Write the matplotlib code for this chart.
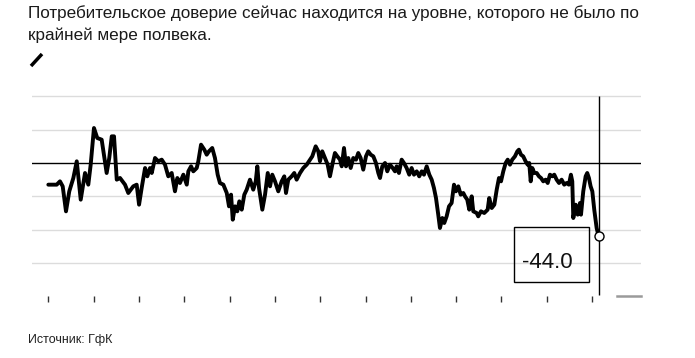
import matplotlib.pyplot as plt
from matplotlib.lines import Line2D
from matplotlib.patches import Rectangle

# GfK consumer confidence (UK)
years = [
    1974.00, 1974.74, 1975.03, 1975.27, 1975.56, 1975.85, 1976.21, 1976.51, 1976.86, 1977.24,
    1977.53, 1977.74, 1978.03, 1978.32, 1978.71, 1979.15, 1979.38, 1979.60, 1979.80, 1980.04,
    1980.33, 1980.77, 1981.06, 1981.50, 1981.80, 1982.01, 1982.24, 1982.54, 1982.74, 1982.98,
    1983.13, 1983.42, 1983.71, 1984.01, 1984.30, 1984.59, 1984.89, 1985.18, 1985.39, 1985.62,
    1985.92, 1986.22, 1986.36, 1986.60, 1986.80, 1987.10, 1987.24, 1987.48, 1987.77, 1987.98,
    1988.18, 1988.47, 1988.71, 1988.95, 1989.15, 1989.45, 1989.75, 1989.95, 1990.13, 1990.28,
    1990.48, 1990.68, 1990.86, 1991.07, 1991.30, 1991.51, 1991.80, 1992.09, 1992.31, 1992.45,
    1992.60, 1992.89, 1993.13, 1993.37, 1993.57, 1993.77, 1994.01, 1994.30, 1994.60, 1994.83,
    1994.98, 1995.18, 1995.48, 1995.71, 1995.92, 1996.22, 1996.51, 1996.81, 1997.10, 1997.30,
    1997.60, 1997.83, 1997.98, 1998.18, 1998.42, 1998.66, 1998.86, 1999.10, 1999.30, 1999.51,
    1999.75, 1999.90, 2000.10, 2000.28, 2000.48, 2000.69, 2000.92, 2001.16, 2001.36, 2001.57,
    2001.80, 2002.04, 2002.24, 2002.46, 2002.69, 2002.92, 2003.13, 2003.28, 2003.48, 2003.72,
    2003.92, 2004.16, 2004.40, 2004.60, 2004.75, 2004.95, 2005.19, 2005.39, 2005.63, 2005.86,
    2006.07, 2006.28, 2006.52, 2006.74, 2006.96, 2007.16, 2007.40, 2007.63, 2007.84, 2008.04,
    2008.22, 2008.42, 2008.57, 2008.78, 2008.95, 2009.16, 2009.37, 2009.60, 2009.81, 2009.98,
    2010.19, 2010.40, 2010.63, 2010.78, 2010.98, 2011.16, 2011.37, 2011.51, 2011.81, 2011.95,
    2012.19, 2012.48, 2012.78, 2012.92, 2013.14, 2013.37, 2013.58, 2013.78, 2013.96, 2014.16,
    2014.37, 2014.55, 2014.75, 2014.95, 2015.19, 2015.40, 2015.54, 2015.72, 2015.92, 2016.13,
    2016.31, 2016.45, 2016.58, 2016.72, 2016.90, 2017.11, 2017.31, 2017.49, 2017.69, 2017.90,
    2018.08, 2018.28, 2018.48, 2018.66, 2018.87, 2019.08, 2019.31, 2019.54, 2019.75, 2019.95,
    2020.13, 2020.25, 2020.34, 2020.55, 2020.73, 2020.93, 2021.02, 2021.22, 2021.43, 2021.57,
    2021.72, 2021.87, 2022.02, 2022.19, 2022.40, 2022.58,
]
values = [
    -13, -13, -11, -14, -29, -17, -9, 1, -22, -6,
    -13, -1, 21, 15, 14, -6, 3, 16, 16, -10,
    -9, -13, -18, -14, -13, -25, -15, -3, -8, -3,
    -6, 3, 1, 2, -1, -8, -6, -17, -9, -12,
    -7, -13, -5, -2, -5, -3, 1, 11, 8, 5,
    7, 9, 3, -7, -12, -13, -18, -26, -19, -34,
    -26, -29, -23, -28, -19, -16, -10, -16, -11, -2,
    -15, -28, -19, -6, -14, -7, -11, -17, -11, -8,
    -18, -10, -8, -6, -10, -6, -3, -1, 2, 4,
    10, 7, 1, 7, 3, -1, -8, 0, 6, 4,
    2, -2, 9, -2, 3, -3, 3, 2, 6, 3,
    -4, 4, 7, 5, 4, 0, -6, -9, -2, 0,
    -5, -1, -3, -5, -2, -6, 2, 0, -3, -7,
    -3, -7, -5, -8, -5, -7, -2, -7, -10, -15,
    -21, -31, -39, -33, -36, -32, -26, -24, -13, -17,
    -14, -19, -18, -20, -22, -28, -20, -29, -30, -32,
    -29, -30, -28, -21, -27, -25, -16, -9, -11, -5,
    0, 2, -1, 2, 4, 7, 8, 5, 4, 1,
    -1, 0, -11, -3, -6, -6, -8, -9, -11, -10,
    -12, -7, -8, -7, -10, -12, -10, -13, -12, -13,
    -7, -11, -33, -25, -31, -24, -31, -17, -8, -6,
    -9, -14, -17, -28, -39, -44,
]
tick_years = [1974, 1978, 1982, 1986, 1990, 1994, 1998, 2002, 2006, 2010, 2014, 2018, 2022]
grid_levels = [40, 20, -20, -40, -60]

title = ("Потребительское доверие сейчас находится на уровне, которого не было по\n"
         "крайней мере полвека.")
source = "Источник: ГфК"
last_label = "-44.0"

W, H = 695, 358
plt.rcParams['font.family'] = ['Liberation Sans', 'DejaVu Sans']

fig = plt.figure(figsize=(W / 100, H / 100), dpi=100)
ax = fig.add_axes([32 / W, 1 - 302 / H, (640.7 - 32) / W, (302 - 88) / H])
ax.set_xlim(1972.56, 2026.29)
ax.set_ylim(-83.4, 45)
for s in ax.spines.values():
    s.set_visible(False)

for lv in grid_levels:
    ax.axhline(lv, color='#dcdcdc', lw=1, zorder=0)
ax.axhline(0, color='black', lw=1, zorder=1)

ax.set_xticks(tick_years)
ax.set_yticks([])
ax.tick_params(axis='x', direction='in', length=4.2, width=1, color='#333333',
               labelbottom=False)

# marker line for the latest reading
ax.vlines(years[-1], -79.2, 40, color='black', lw=1, zorder=2)

ax.plot(years, values, color='black', lw=2.8, solid_joinstyle='round',
        solid_capstyle='round', zorder=3)
ax.plot(years[-1], values[-1], 'o', mfc='white', mec='black', ms=6.5, mew=1, zorder=4)

# callout box
fig.patches.append(Rectangle((514 / W, 1 - 282 / H), 75 / W, 55 / H,
                             transform=fig.transFigure, fill=False,
                             edgecolor='black', lw=1))
fig.text(547.5 / W, 1 - 263 / H, last_label, ha='center', va='center',
         fontsize=16, color='#111111')

fig.text(28 / W, 1 - 5 / H, title, ha='left', va='top', fontsize=12.3,
         color='#1a1a1a', linespacing=1.5)

# small legend stroke under the title
fig.add_artist(Line2D([31 / W, 42 / W], [1 - 66 / H, 1 - 54 / H],
                      lw=2.5, color='black', solid_capstyle='butt'))
# short grey stub at bottom right
fig.add_artist(Line2D([617 / W, 641 / W], [1 - 296 / H, 1 - 296 / H],
                      lw=1.8, color='#9a9a9a'))

fig.text(28 / W, 1 - 340 / H, source, ha='left', va='center', fontsize=9,
         color='#222222', family=['Liberation Sans Narrow', 'Liberation Sans'])

fig.savefig('out.png', dpi=100)
